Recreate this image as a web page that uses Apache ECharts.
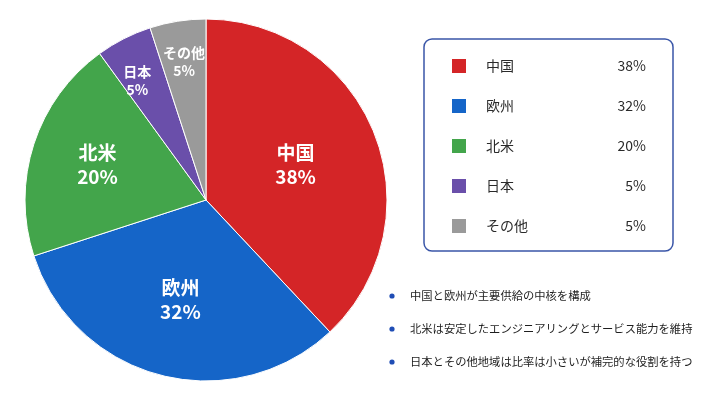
<!DOCTYPE html>
<html><head><meta charset="utf-8">
<script src="https://cdn.jsdelivr.net/npm/echarts@6/dist/echarts.min.js"></script>
<style>html,body{margin:0;padding:0;background:#fff}#c{width:709px;height:408px}</style>
</head><body><div id="c"></div>
<script>
const categories = ['中国', '欧州', '北米', '日本', 'その他'];
const shares = [38, 32, 20, 5, 5];
const colors = ['#D42527', '#1565C8', '#43A54B', '#6A4FAA', '#9A9A9A'];
const notes = [
  '中国と欧州が主要供給の中核を構成',
  '北米は安定したエンジニアリングとサービス能力を維持',
  '日本とその他地域は比率は小さいが補完的な役割を持つ'
];
const FONT = '"Noto Sans CJK JP", "Noto Sans", sans-serif';
const CX = 206, CY = 200;

const chart = echarts.init(document.getElementById('c'), null, {renderer: 'canvas'});
const data = categories.map((n, i) => ({
  name: n, value: shares[i],
  itemStyle: {color: colors[i]},
  label: {fontSize: shares[i] >= 20 ? 19 : 14, lineHeight: shares[i] >= 20 ? 24 : 18}
}));

const graphic = [];
for (let i = 1; i < categories.length; i++) {
  const y = 45 + i * 40;
  graphic.push({type: 'line', shape: {x1: 435, y1: y, x2: 662, y2: y}, style: {stroke: '#e2e2e2', lineWidth: 1}, silent: true});
}
notes.forEach((t, i) => {
  const y = 296 + i * 33;
  graphic.push({type: 'circle', shape: {cx: 392, cy: y, r: 2.6}, style: {fill: '#1F4DB5'}});
  graphic.push({type: 'text', x: 410, y: y, style: {text: t, fill: '#1e1e1e', font: '11.3px ' + FONT, textVerticalAlign: 'middle'}});
});

chart.setOption({
  backgroundColor: '#fff',
  animation: false,
  textStyle: {fontFamily: FONT},
  legend: {
    orient: 'vertical',
    left: 424, top: 39,
    padding: [18, 27, 16, 26],
    itemWidth: 16, itemHeight: 16, itemGap: 22,
    icon: 'rect',
    borderColor: '#3A56A8', borderWidth: 1.5, borderRadius: 8,
    backgroundColor: '#fff',
    selectedMode: false,
    data: categories,
    formatter: name => '{n|' + name + '}{v|' + shares[categories.indexOf(name)] + '%}',
    textStyle: {
      lineHeight: 16, fontSize: 14,
      rich: {
        n: {width: 120, padding: [0, 0, 0, 14], fontSize: 14, color: '#2a2a2a', fontFamily: FONT, lineHeight: 16, height: 16},
        v: {width: 40, align: 'right', fontSize: 14, color: '#2a2a2a', fontFamily: FONT, lineHeight: 16, height: 16}
      }
    }
  },
  graphic: graphic,
  series: [{
    type: 'pie',
    center: [CX, CY],
    radius: 181,
    startAngle: 90,
    clockwise: true,
    itemStyle: {borderColor: '#fff', borderWidth: 1},
    label: {
      show: true, position: 'inside',
      formatter: '{b}\n{d}%',
      color: '#fff', fontWeight: 'bold', fontFamily: FONT
    },
    labelLine: {show: false},
    labelLayout: function (p) {
      const r = p.labelRect;
      const lx = r.x + r.width / 2, ly = r.y + r.height / 2;
      const v = shares[p.dataIndex];
      const k = v <= 5 ? 0.5 : v <= 20 ? 0.22 : v <= 32 ? 0.1 : 0.03;
      return {dx: (lx - CX) * k - (p.dataIndex === 3 ? 5 : 0), dy: (ly - CY) * k + (p.dataIndex === 3 ? 6 : 0)};
    },
    emphasis: {disabled: true},
    data: data
  }]
});
</script></body></html>
